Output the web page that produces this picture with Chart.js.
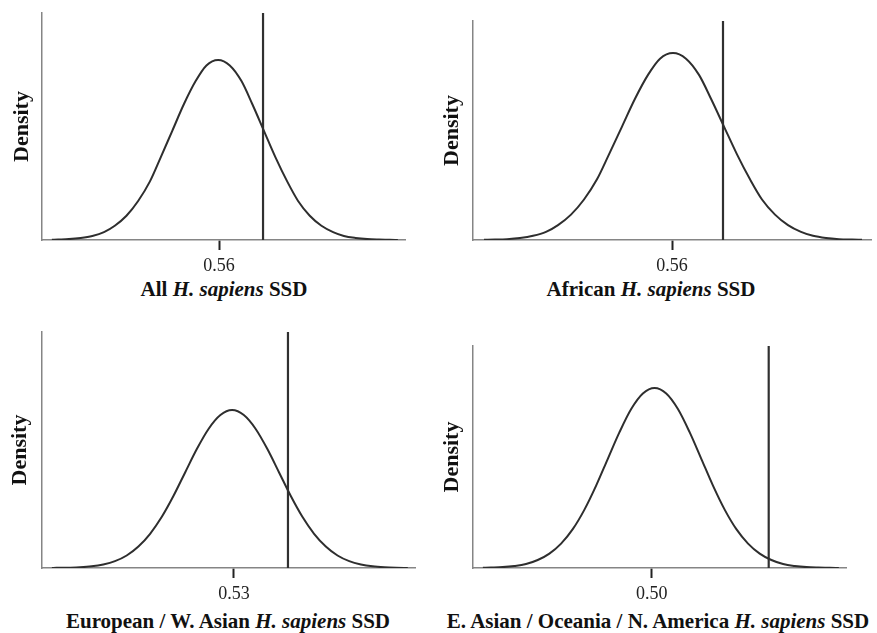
<!DOCTYPE html>
<html>
<head>
<meta charset="utf-8">
<script src="https://cdn.jsdelivr.net/npm/chart.js@4.4.1/dist/chart.umd.min.js"></script>
<style>
  body { margin: 0; background: #fff; width: 877px; height: 633px; overflow: hidden; position: relative; }
  canvas { position: absolute; }
  .xtitle {
    position: absolute; width: 500px; text-align: center;
    font-family: "Liberation Serif", "Times New Roman", serif;
    font-size: 21px; font-weight: bold; line-height: 21px; color: #111;
    white-space: nowrap;
  }
</style>
</head>
<body>
<canvas id="p0" width="420" height="275" style="left:0px;top:0px"></canvas>
<canvas id="p1" width="437" height="275" style="left:440px;top:0px"></canvas>
<canvas id="p2" width="440" height="285" style="left:0px;top:320px"></canvas>
<canvas id="p3" width="437" height="285" style="left:440px;top:320px"></canvas>

<div class="xtitle" style="left:-26px;top:279px">All <i>H. sapiens</i> SSD</div>
<div class="xtitle" style="left:401px;top:279px">African <i>H. sapiens</i> SSD</div>
<div class="xtitle" style="left:-22px;top:611px">European / W. Asian <i>H. sapiens</i> SSD</div>
<div class="xtitle" style="left:408px;top:611px">E. Asian / Oceania / N. America <i>H. sapiens</i> SSD</div>

<script>
// density curves (x = SSD, y = density, arbitrary units)
const allSsd = [0.5414, 0.5421, 0.5433, 0.5446, 0.5459, 0.5472, 0.5484, 0.5497, 0.5510, 0.5523, 0.5535,
    0.5548, 0.5561, 0.5574, 0.5586, 0.5599, 0.5612, 0.5625, 0.5637, 0.5650, 0.5663, 0.5676,
    0.5688, 0.5701, 0.5714, 0.5727, 0.5739, 0.5752, 0.5765, 0.5778, 0.5790, 0.5799];
const allDensity = [0.1, 0.2, 0.4, 0.9, 1.8, 3.5, 6.3, 10.7, 17.2, 25.7, 36.3,
    48.1, 59.9, 70.0, 76.9, 79.3, 76.9, 70.0, 59.9, 48.1, 36.3, 25.7,
    17.2, 10.7, 6.3, 3.5, 1.8, 0.9, 0.4, 0.2, 0.1, 0.0];

const africanSsd = [0.5412, 0.5423, 0.5435, 0.5448, 0.5461, 0.5474, 0.5486, 0.5499, 0.5512, 0.5525, 0.5537,
    0.5550, 0.5563, 0.5576, 0.5588, 0.5601, 0.5614, 0.5627, 0.5639, 0.5652, 0.5665, 0.5678,
    0.5690, 0.5703, 0.5716, 0.5729, 0.5741, 0.5754, 0.5767, 0.5780, 0.5790];
const africanDensity = [0.1, 0.2, 0.4, 0.9, 1.9, 3.7, 6.8, 11.6, 18.5, 27.7, 39.1,
    51.8, 64.5, 75.4, 82.8, 85.4, 82.8, 75.4, 64.5, 51.8, 39.1, 27.7,
    18.5, 11.6, 6.8, 3.7, 1.9, 0.9, 0.4, 0.2, 0.1];

const euroSsd = [0.5098, 0.5103, 0.5116, 0.5129, 0.5142, 0.5155, 0.5168, 0.5181, 0.5194, 0.5207, 0.5220,
    0.5233, 0.5246, 0.5259, 0.5272, 0.5285, 0.5298, 0.5311, 0.5324, 0.5337, 0.5350, 0.5363,
    0.5376, 0.5389, 0.5402, 0.5415, 0.5428, 0.5441, 0.5454, 0.5467, 0.5480, 0.5493];
const euroDensity = [0.0, 0.1, 0.1, 0.3, 0.7, 1.5, 2.9, 5.3, 9.1, 14.5, 21.7,
    30.6, 40.6, 50.5, 59.0, 64.8, 66.9, 64.8, 59.0, 50.5, 40.6, 30.6,
    21.7, 14.5, 9.1, 5.3, 2.9, 1.5, 0.7, 0.3, 0.1, 0.0];

const eastSsd = [0.4812, 0.4821, 0.4834, 0.4847, 0.4860, 0.4873, 0.4886, 0.4899, 0.4912, 0.4925, 0.4938,
    0.4951, 0.4964, 0.4977, 0.4990, 0.5003, 0.5016, 0.5029, 0.5042, 0.5055, 0.5068, 0.5081,
    0.5094, 0.5107, 0.5120, 0.5133, 0.5146, 0.5159, 0.5172, 0.5185, 0.5198, 0.5208];
const eastDensity = [0.1, 0.2, 0.4, 0.9, 1.8, 3.6, 6.5, 11.0, 17.5, 26.3, 37.1,
    49.2, 61.2, 71.6, 78.6, 81.1, 78.6, 71.6, 61.2, 49.2, 37.1, 26.3,
    17.5, 11.0, 6.5, 3.6, 1.8, 0.9, 0.4, 0.2, 0.1, 0.0];

// observed SSD (vertical line), the one labelled tick and axis range per panel
const observedSsd = [0.5649, 0.5651, 0.5360, 0.5130];
const tickValues = [0.56, 0.56, 0.53, 0.50];
const axisMin = [0.5403, 0.5401, 0.5087, 0.4801];
const axisMax = [0.5807, 0.5799, 0.5501, 0.5216];
const densityMax = 100;

const curves = [
    [allSsd, allDensity],
    [africanSsd, africanDensity],
    [euroSsd, euroDensity],
    [eastSsd, eastDensity]
];

// layout of each canvas: y scale width, x scale height, top/right padding, title offset
const boxes = [
    { yw: 42, xh: 35, top: 13, right: 15, tpad: 11 },
    { yw: 33, xh: 35, top: 21, right: 6, tpad: 1 },
    { yw: 42, xh: 37, top: 12, right: 25, tpad: 9 },
    { yw: 33, xh: 37, top: 26, right: 31, tpad: 1 }
];

const serif = '"Liberation Serif", "Times New Roman", serif';

curves.forEach(function(c, i) {
    const b = boxes[i];
    const points = c[0].map((x, k) => ({ x: x, y: c[1][k] }));
    new Chart(document.getElementById('p' + i), {
        type: 'line',
        data: {
            datasets: [
                {
                    data: points,
                    borderColor: '#2e2e2e',
                    borderWidth: 2,
                    pointRadius: 0,
                    cubicInterpolationMode: 'monotone',
                    fill: false
                },
                {
                    data: [{ x: observedSsd[i], y: 0 }, { x: observedSsd[i], y: densityMax }],
                    borderColor: '#303030',
                    borderWidth: 2.2,
                    pointRadius: 0,
                    fill: false
                }
            ]
        },
        options: {
            responsive: false,
            animation: false,
            layout: { padding: { top: b.top, right: b.right, left: 0, bottom: 0 } },
            plugins: {
                legend: { display: false },
                tooltip: { enabled: false }
            },
            scales: {
                x: {
                    type: 'linear',
                    min: axisMin[i],
                    max: axisMax[i],
                    afterBuildTicks: function(scale) {
                        scale.ticks = [{ value: tickValues[i] }];
                    },
                    afterFit: function(scale) { scale.height = b.xh; },
                    ticks: {
                        padding: 5,
                        color: '#222',
                        font: { family: serif, size: 18 },
                        callback: (v) => v.toFixed(2)
                    },
                    grid: {
                        display: true,
                        drawOnChartArea: false,
                        tickLength: 10,
                        tickWidth: 2,
                        tickColor: '#222'
                    },
                    border: { display: true, color: '#858585', width: 1.5 }
                },
                y: {
                    min: 0,
                    max: densityMax,
                    afterFit: function(scale) { scale.width = b.yw; },
                    ticks: { display: false },
                    grid: { display: false },
                    border: { display: true, color: '#858585', width: 1.5 },
                    title: {
                        display: true,
                        text: 'Density',
                        color: '#111',
                        padding: { top: b.tpad, bottom: 0 },
                        font: { family: serif, size: 22, weight: 'bold', lineHeight: 1 }
                    }
                }
            }
        }
    });
});
</script>
</body>
</html>
